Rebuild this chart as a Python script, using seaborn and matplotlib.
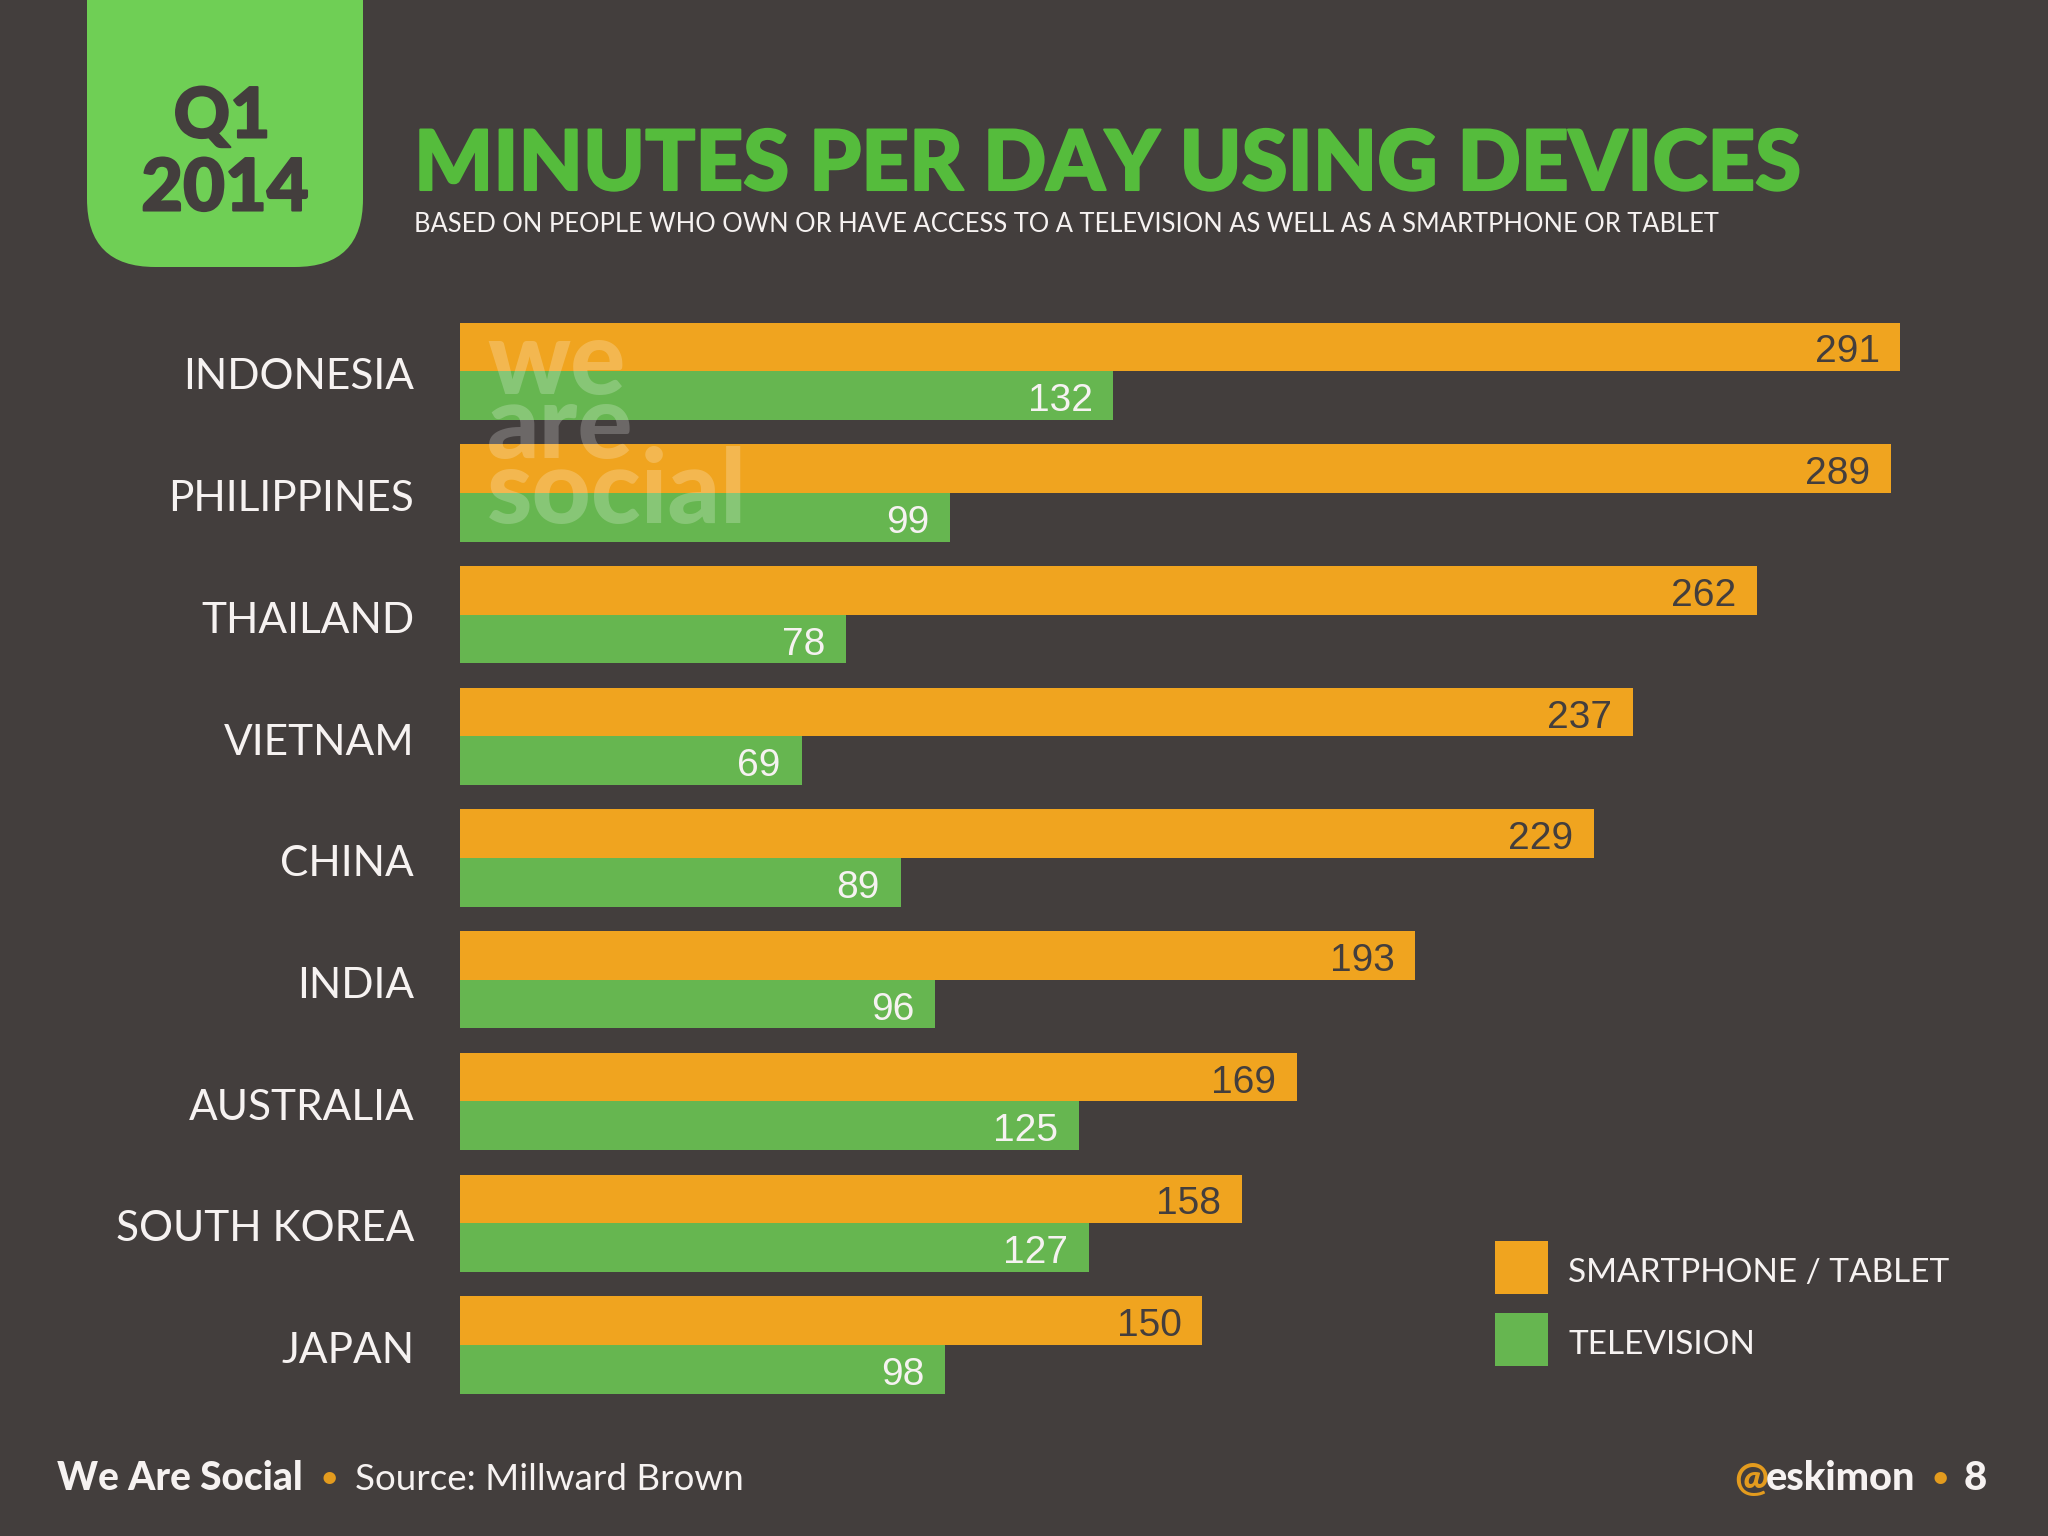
import matplotlib
matplotlib.use("Agg")
import matplotlib.pyplot as plt
from matplotlib.patches import FancyBboxPatch
from matplotlib.transforms import ScaledTranslation
import matplotlib.patheffects as pe
import pandas as pd
import seaborn as sns

countries = ["INDONESIA", "PHILIPPINES", "THAILAND", "VIETNAM", "CHINA", "INDIA",
             "AUSTRALIA", "SOUTH KOREA", "JAPAN"]
smartphone_tablet = [291, 289, 262, 237, 229, 193, 169, 158, 150]
television = [132, 99, 78, 69, 89, 96, 125, 127, 98]
series_names = ["SMARTPHONE / TABLET", "TELEVISION"]

BG = "#433E3D"
ORANGE = "#F0A41F"
GREEN = "#66B650"
TAB = "#6FCF55"
TITLE = "#55BC3C"
WHITE = "#F6F2F1"
DOT = "#E39B1E"

W, H = 2048, 1536
sns.set_theme(style="white")
plt.rcParams["font.family"] = ["Lato", "DejaVu Sans"]

df = pd.DataFrame({
    "country": countries * 2,
    "minutes": smartphone_tablet + television,
    "device": [series_names[0]] * len(countries) + [series_names[1]] * len(countries),
})

fig = plt.figure(figsize=(W / 100, H / 100), dpi=100, facecolor=BG)
L, R, T, B = 460, 1900.4, 322.5, 1393.6
ax = fig.add_axes([L / W, 1 - B / H, (R - L) / W, (B - T) / H], facecolor="none")
sns.barplot(data=df, y="country", x="minutes", hue="device", order=countries,
            palette=[ORANGE, GREEN], width=0.8, gap=0, saturation=1,
            edgecolor="none", linewidth=0, ax=ax)
ax.set_xlim(0, 291)
ax.set_ylim(8.4, -0.4)
ax.set_xlabel("")
ax.set_ylabel("")
ax.set_xticks([])
ax.tick_params(axis="y", length=0, pad=33, labelsize=30.5, labelcolor=WHITE)
shift = ScaledTranslation(0, -2 / 72, fig.dpi_scale_trans)
for lab in ax.get_yticklabels():
    lab.set_transform(lab.get_transform() + shift)
for s in ax.spines.values():
    s.set_visible(False)

narrow = ["Liberation Sans", "DejaVu Sans"]
for cont, col in zip(ax.containers, [BG, WHITE]):
    for rect in cont:
        ax.annotate(f"{int(rect.get_width())}",
                    xy=(rect.get_width(), rect.get_y() + rect.get_height() / 2),
                    xytext=(-15, -4), textcoords="offset points",
                    ha="right", va="center", color=col, fontsize=28, family=narrow)

handles, labels = ax.get_legend_handles_labels()
leg = ax.legend(handles, labels, frameon=False, loc="upper left",
                bbox_to_anchor=(1495 / W, 1 - 1241 / H), bbox_transform=fig.transFigure,
                borderaxespad=0, borderpad=0, fontsize=24, handlelength=1.575, handleheight=2.06,
                labelspacing=0.58, handletextpad=0.63, labelcolor=WHITE)
for t in leg.get_texts():
    t.set_y(-4)

ov = fig.add_axes([0, 0, 1, 1], facecolor="none")
ov.set_xlim(0, W)
ov.set_ylim(H, 0)
ov.axis("off")
ov.add_patch(FancyBboxPatch((87, -120), 276, 387, boxstyle="round,pad=0,rounding_size=68",
                            fc=TAB, ec="none"))
heavy = [pe.withStroke(linewidth=1.5, foreground=BG)]
ov.text(222, 118, "Q1", ha="center", va="center", fontsize=50, weight=900, color=BG, path_effects=heavy)
ov.text(225, 190, "2014", ha="center", va="center", fontsize=52, weight=900, color=BG, path_effects=heavy)
ov.text(414, 190, "MINUTES PER DAY USING DEVICES", ha="left", va="baseline",
        fontsize=60, weight=900, color=TITLE,
        path_effects=[pe.withStroke(linewidth=1.5, foreground=TITLE)])
ov.text(414, 232, "BASED ON PEOPLE WHO OWN OR HAVE ACCESS TO A TELEVISION AS WELL AS A SMARTPHONE OR TABLET",
        ha="left", va="baseline", fontsize=18.4, color=WHITE)

ov.text(487, 523, "we\nare\nsocial", ha="left", va="baseline", fontsize=74, weight=900,
        color="white", alpha=0.22, linespacing=0.62)

FY = 1479
ov.text(57, FY, "We Are Social", ha="left", va="center", fontsize=28, weight=900, color=WHITE)
ov.text(329, FY, "•", ha="center", va="center", fontsize=24, color=DOT)
ov.text(355, FY, "Source: Millward Brown", ha="left", va="center", fontsize=26.5, color=WHITE)
ov.text(1734, FY, "@", ha="left", va="center", fontsize=29, weight=900, color=DOT)
ov.text(1915, FY, "eskimon", ha="right", va="center", fontsize=28.5, weight=900, color=WHITE)
ov.text(1940, FY, "•", ha="center", va="center", fontsize=24, color=DOT)
ov.text(1987, FY, "8", ha="right", va="center", fontsize=29, weight=900, color=WHITE)

fig.savefig("out.png", dpi=100, facecolor=BG)
